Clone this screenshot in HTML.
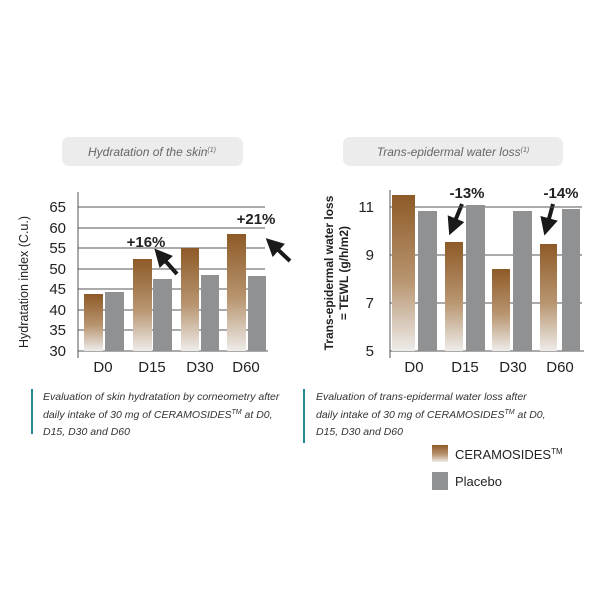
<!DOCTYPE html>
<html><head><meta charset="utf-8"><style>
body{margin:0;background:#fff;width:600px;height:600px;overflow:hidden;font-family:"Liberation Sans",sans-serif}
</style></head><body>
<svg width="600" height="600" xmlns="http://www.w3.org/2000/svg" font-family="Liberation Sans, sans-serif">
<defs>
<linearGradient id="br" x1="0" y1="0" x2="0" y2="1">
<stop offset="0" stop-color="#8e5a27"/><stop offset="0.55" stop-color="#b89570"/><stop offset="1" stop-color="#eeecea"/>
</linearGradient>
<marker id="ah" markerWidth="4.5" markerHeight="4.5" refX="2" refY="2.25" orient="auto" markerUnits="strokeWidth"><path d="M0,0 L4.5,2.25 L0,4.5 z" fill="#1a1a1a"/></marker>
</defs>
<rect x="62" y="137" width="181" height="29" rx="7" fill="#ececec"/>
<text x="152" y="156" text-anchor="middle" font-size="12" font-style="italic" fill="#666">Hydratation of the skin<tspan font-size="7" dy="-4">(1)</tspan></text>
<rect x="343" y="137" width="220" height="29" rx="7" fill="#ececec"/>
<text x="453" y="156" text-anchor="middle" font-size="12" font-style="italic" fill="#666">Trans-epidermal water loss<tspan font-size="7" dy="-4">(1)</tspan></text>

<g stroke="#555" stroke-width="1">
<line x1="78" y1="207" x2="265" y2="207"/><line x1="78" y1="228" x2="265" y2="228"/><line x1="78" y1="248" x2="265" y2="248"/><line x1="78" y1="269" x2="265" y2="269"/><line x1="78" y1="289" x2="265" y2="289"/><line x1="78" y1="310" x2="265" y2="310"/><line x1="78" y1="330" x2="265" y2="330"/><line x1="78" y1="351" x2="268" y2="351"/>
<line x1="78" y1="192" x2="78" y2="358"/>
</g>
<g fill="url(#br)">
<rect x="84" y="294" width="19" height="57"/><rect x="133" y="259" width="19" height="92"/><rect x="181" y="248" width="18" height="103"/><rect x="227" y="234" width="19" height="117"/>
</g>
<g fill="#909193">
<rect x="105" y="292" width="19" height="59"/><rect x="153" y="279" width="19" height="72"/><rect x="201" y="275" width="18" height="76"/><rect x="248" y="276" width="18" height="75"/>
</g>
<g font-size="15" fill="#222" text-anchor="end">
<text x="66" y="212">65</text><text x="66" y="233">60</text><text x="66" y="253">55</text><text x="66" y="274">50</text><text x="66" y="294">45</text><text x="66" y="315">40</text><text x="66" y="335">35</text><text x="66" y="356">30</text>
</g>
<text transform="translate(28,282) rotate(-90)" text-anchor="middle" font-size="12.5" fill="#222">Hydratation index (C.u.)</text>
<g font-size="15" fill="#222" text-anchor="middle">
<text x="103" y="372">D0</text><text x="152" y="372">D15</text><text x="200" y="372">D30</text><text x="246" y="372">D60</text>
</g>
<text x="146" y="247" text-anchor="middle" font-size="15" font-weight="bold" fill="#222">+16%</text>
<text x="256" y="224" text-anchor="middle" font-size="15" font-weight="bold" fill="#222">+21%</text>
<g stroke="#1a1a1a" stroke-width="4" marker-end="url(#ah)">
<line x1="177" y1="274" x2="161" y2="256"/>
<line x1="290" y1="261" x2="273" y2="245"/>
<line x1="462" y1="204" x2="453" y2="226"/>
<line x1="553" y1="204" x2="547" y2="226"/>
</g>

<g stroke="#555" stroke-width="1">
<line x1="390" y1="207" x2="582" y2="207"/><line x1="390" y1="255" x2="582" y2="255"/><line x1="390" y1="303" x2="582" y2="303"/><line x1="390" y1="351" x2="584" y2="351"/>
<line x1="390" y1="190" x2="390" y2="358"/>
</g>
<g fill="url(#br)">
<rect x="392" y="195" width="23" height="156"/><rect x="445" y="242" width="18" height="109"/><rect x="492" y="269" width="18" height="82"/><rect x="540" y="244" width="17" height="107"/>
</g>
<g fill="#909193">
<rect x="418" y="211" width="19" height="140"/><rect x="466" y="205" width="19" height="146"/><rect x="513" y="211" width="19" height="140"/><rect x="562" y="209" width="18" height="142"/>
</g>
<g font-size="15" fill="#222" text-anchor="end">
<text x="374" y="212">11</text><text x="374" y="260">9</text><text x="374" y="308">7</text><text x="374" y="356">5</text>
</g>
<text transform="translate(333,273) rotate(-90)" text-anchor="middle" font-size="12" font-weight="bold" fill="#222">Trans-epidermal water loss</text>
<text transform="translate(348,273) rotate(-90)" text-anchor="middle" font-size="12" font-weight="bold" fill="#222">= TEWL (g/h/m2)</text>
<g font-size="15" fill="#222" text-anchor="middle">
<text x="414" y="372">D0</text><text x="465" y="372">D15</text><text x="513" y="372">D30</text><text x="560" y="372">D60</text>
</g>
<text x="467" y="198" text-anchor="middle" font-size="15" font-weight="bold" fill="#222">-13%</text>
<text x="561" y="198" text-anchor="middle" font-size="15" font-weight="bold" fill="#222">-14%</text>

<rect x="31" y="389" width="2" height="45" fill="#2a8a94"/>
<rect x="303" y="389" width="2" height="54" fill="#2a8a94"/>
<g font-size="10.5" font-style="italic" fill="#333">
<text x="43" y="400">Evaluation of skin hydratation by corneometry after</text>
<text x="43" y="418">daily intake of 30 mg of CERAMOSIDES<tspan font-size="7" dy="-4">TM</tspan><tspan dy="4"> at D0,</tspan></text>
<text x="43" y="435">D15, D30 and D60</text>
<text x="316" y="400">Evaluation of trans-epidermal water loss after</text>
<text x="316" y="418">daily intake of 30 mg of CERAMOSIDES<tspan font-size="7" dy="-4">TM</tspan><tspan dy="4"> at D0,</tspan></text>
<text x="316" y="435">D15, D30 and D60</text>
</g>
<rect x="432" y="445" width="16" height="17" fill="url(#br)"/>
<rect x="432" y="472" width="16" height="18" fill="#909193"/>
<text x="455" y="459" font-size="13" fill="#222">CERAMOSIDES<tspan font-size="8" dy="-5">TM</tspan></text>
<text x="455" y="486" font-size="13" fill="#222">Placebo</text>
</svg>
</body></html>
